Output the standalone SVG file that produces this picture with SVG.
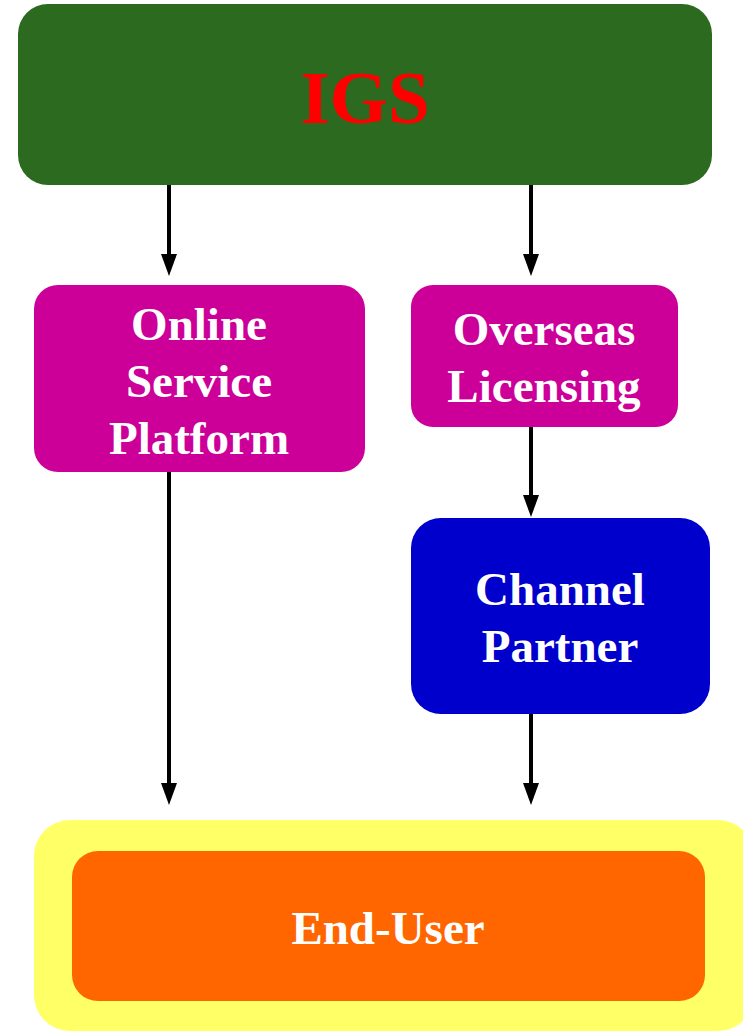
<svg xmlns="http://www.w3.org/2000/svg" width="743" height="1031" viewBox="0 0 743 1031">
<style>
text{font-family:"Liberation Serif","Times New Roman",serif;font-weight:bold;text-anchor:middle}
.w{fill:#ffffff;font-size:47px}
.c line{stroke:#000;stroke-width:4}
</style>
<defs>
<marker id="ah" markerUnits="userSpaceOnUse" markerWidth="24" markerHeight="18" refX="1" refY="9" orient="auto" viewBox="0 0 24 18">
<path d="M0,1 L22,9 L0,17 Z" fill="#000"/>
</marker>
</defs>
<rect width="743" height="1031" fill="#fff"/>
<g class="c" id="connectors">
<line x1="169" y1="185" x2="169" y2="255" marker-end="url(#ah)"/>
<line x1="531" y1="185" x2="531" y2="255" marker-end="url(#ah)"/>
<line x1="531" y1="427" x2="531" y2="496" marker-end="url(#ah)"/>
<line x1="169" y1="472" x2="169" y2="784" marker-end="url(#ah)"/>
<line x1="531" y1="714" x2="531" y2="784" marker-end="url(#ah)"/>
</g>
<g id="igs">
<rect x="18" y="4" width="694" height="181" rx="30" fill="#2b6a1f"/>
<text x="365" y="123" fill="#ff0000" font-size="75">IGS</text>
</g>
<g id="online">
<rect x="34" y="285" width="331" height="187" rx="24" fill="#cc0099"/>
<text class="w" x="199" y="340">Online</text>
<text class="w" x="199" y="397">Service</text>
<text class="w" x="199" y="454">Platform</text>
</g>
<g id="overseas">
<rect x="411" y="285" width="267" height="142" rx="22" fill="#cc0099"/>
<text class="w" x="544" y="345">Overseas</text>
<text class="w" x="544" y="402">Licensing</text>
</g>
<g id="channel">
<rect x="411" y="518" width="299" height="196" rx="30" fill="#0000cc"/>
<text class="w" x="560" y="605">Channel</text>
<text class="w" x="560" y="662">Partner</text>
</g>
<g id="enduser">
<rect x="34" y="820" width="720" height="211" rx="36" fill="#ffff66"/>
<rect x="72" y="851" width="633" height="150" rx="26" fill="#ff6600"/>
<text class="w" x="388" y="944" font-size="52">End-User</text>
</g>
</svg>
